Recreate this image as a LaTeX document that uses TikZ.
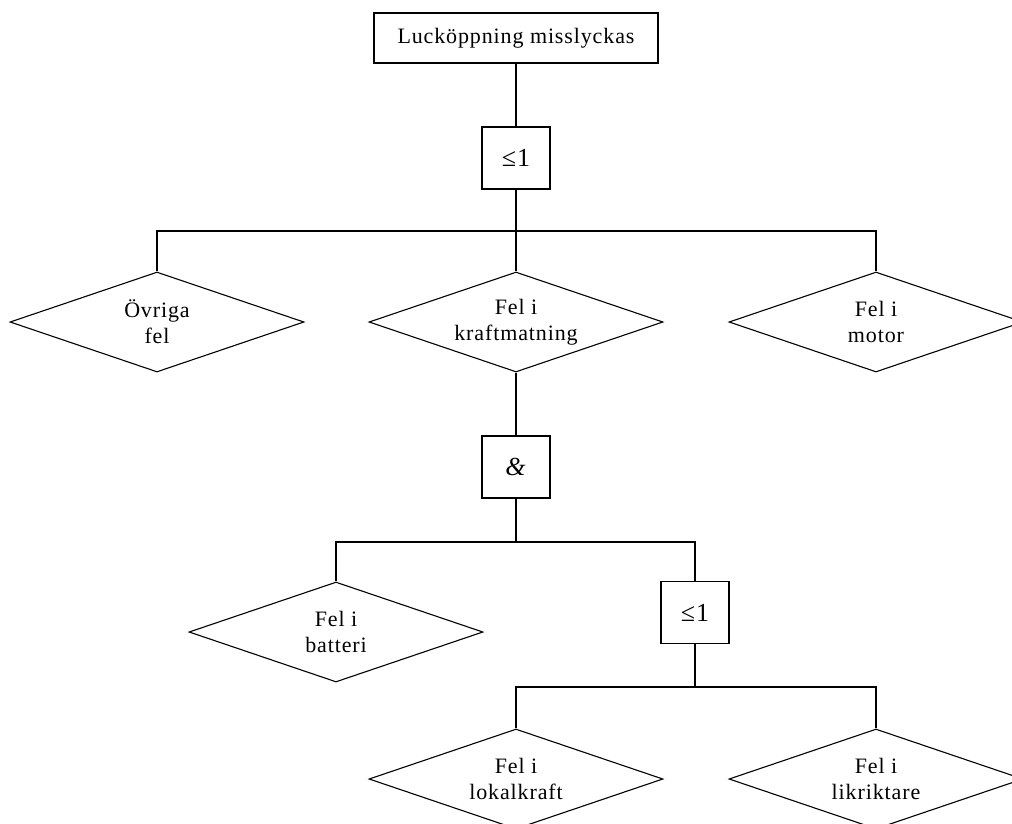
\documentclass[tikz,border=0pt]{standalone}
\usepackage{fontspec}
\setmainfont{Liberation Serif}[LetterSpace=4]
\usetikzlibrary{shapes.geometric}
\begin{document}
\begin{tikzpicture}[x=1pt,y=-1pt,
  every node/.style={font=\fontsize{22}{26}\selectfont, align=center},
  line/.style={draw=black, line width=1.3pt},
  topbox/.style={line, rectangle, minimum width=284pt, minimum height=50pt, inner sep=0pt},
  gatebox/.style={line, rectangle, minimum width=68pt, minimum height=62pt, inner sep=0pt, font=\fontsize{26}{30}\selectfont},
  event/.style={draw=black, line width=1.1pt, diamond, shape aspect=2.93, minimum width=294pt, minimum height=100pt, inner sep=0pt}]
\useasboundingbox (0,0) rectangle (1012,823);
\clip (0,0) rectangle (1012,823);
\fill[white] (0,0) rectangle (1012,823);

\node[topbox] (top) at (516,38) {Lucköppning misslyckas};
\node[gatebox] (g1) at (516,158) {≤1};
\node[event] (ovr) at (157,322) {Övriga\\fel};
\node[event] (kraft) at (516,322) {Fel i\\kraftmatning};
\node[event] (mot) at (876,322) {Fel i\\motor};
\node[gatebox] (g2) at (516,467) {\textit{\&}};
\node[event] (bat) at (336,632) {Fel i\\batteri};
\node[gatebox] (g3) at (695,612.5) {≤1};
\node[event] (lok) at (516,779) {Fel i\\lokalkraft};
\node[event] (lik) at (876,779) {Fel i\\likriktare};

\coordinate (b1) at (516,231);
\coordinate (b2) at (516,542);
\coordinate (b3) at (695,687);

\draw[line] (top.south) -- (g1.north);
\draw[line] (g1.south) -- (b1);
\draw[line] (ovr.north) |- (b1) -| (mot.north);
\draw[line] (b1) -- (kraft.north);

\draw[line] (kraft.south) -- (g2.north);
\draw[line] (g2.south) -- (b2);
\draw[line] (bat.north) |- (b2) -| (g3.north);

\draw[line] (g3.south) -- (b3);
\draw[line] (lok.north) |- (b3) -| (lik.north);
\end{tikzpicture}
\end{document}
